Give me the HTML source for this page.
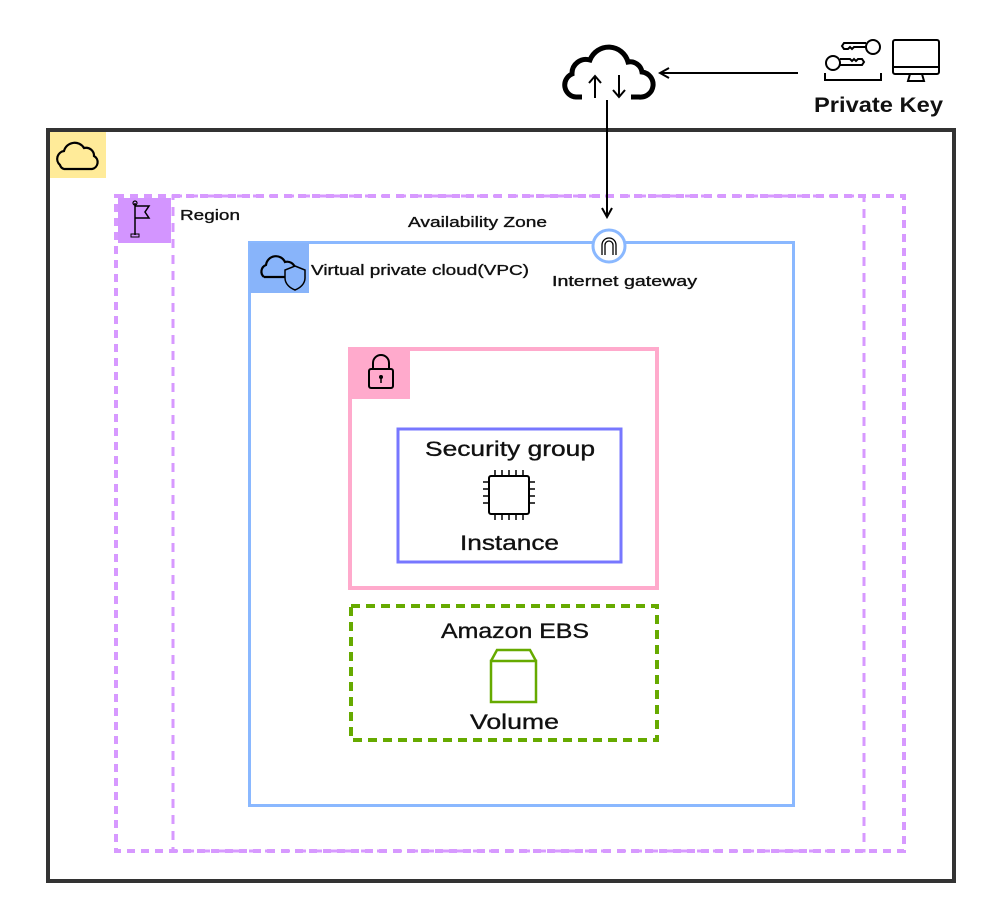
<!DOCTYPE html>
<html><head><meta charset="utf-8"><style>
body{margin:0;background:#fff;width:1000px;height:905px;overflow:hidden}
svg text{font-family:"Liberation Sans",sans-serif;fill:#111;stroke:#111;stroke-width:0.35}
</style></head><body>
<svg width="1000" height="905" viewBox="0 0 1000 905" xmlns="http://www.w3.org/2000/svg">
<defs><marker id="ah" markerWidth="12" markerHeight="12" refX="10" refY="6" orient="auto" markerUnits="userSpaceOnUse"><path d="M1,1 L10,6 L1,11" fill="none" stroke="#000" stroke-width="2"/></marker></defs>
<!-- outer -->
<rect x="48" y="130" width="906" height="751" fill="#fff" stroke="#333" stroke-width="4"/>
<rect x="50" y="132" width="56" height="46" fill="#ffeb99"/>
<path d="M60,165 a8,8 0 0 1 4,-14 a11,11 0 0 1 20,-3 a8,8 0 0 1 10,8 a7,7 0 0 1 -2,13 h-28 a6,6 0 0 1 -4,-4z" fill="none" stroke="#000" stroke-width="2.2"/>
<!-- region / AZ dashed -->
<rect x="116" y="196" width="788" height="655" fill="none" stroke="#d799ff" stroke-width="4" stroke-dasharray="8,6"/>
<rect x="173" y="196" width="691" height="655" fill="none" stroke="#d799ff" stroke-width="3" stroke-dasharray="9,7"/>
<rect x="118" y="198" width="53" height="45" fill="#d395ff"/>
<line x1="135" y1="203" x2="135" y2="235" stroke="#000" stroke-width="1.5"/>
<circle cx="135" cy="203" r="2" fill="none" stroke="#000" stroke-width="1.2"/>
<path d="M135,206 h14 l-4,6 l4,6 h-14" fill="none" stroke="#000" stroke-width="1.5"/>
<rect x="131" y="234" width="8" height="3" fill="none" stroke="#000" stroke-width="1"/>
<text x="180" y="220" font-size="15" textLength="60" lengthAdjust="spacingAndGlyphs">Region</text>
<text x="408" y="227" font-size="15" textLength="139" lengthAdjust="spacingAndGlyphs">Availability Zone</text>
<!-- VPC -->
<rect x="249.5" y="242.5" width="544" height="563" fill="#fff" stroke="#8ab8ff" stroke-width="3"/>
<rect x="250" y="243" width="59" height="50" fill="#88b4fa"/>
<path d="M264,277 a7,7 0 0 1 2,-12 a10,10 0 0 1 19,-3 a8,8 0 0 1 10,6 M264,277 h22" fill="none" stroke="#000" stroke-width="2.2"/>
<path d="M295,266 l10,4 v8 c0,6 -5,10 -10,12 c-5,-2 -10,-6 -10,-12 v-8z" fill="#88b4fa" stroke="#000" stroke-width="1.5"/>
<text x="311" y="275" font-size="15" textLength="218" lengthAdjust="spacingAndGlyphs">Virtual private cloud(VPC)</text>
<circle cx="609" cy="246" r="16" fill="#fff" stroke="#8ab8ff" stroke-width="3"/>
<path d="M602,255 v-10 a7,7 0 0 1 14,0 v10 M605,255 v-10 a4,4 0 0 1 8,0 v10" fill="none" stroke="#000" stroke-width="1.3"/>
<text x="552" y="286" font-size="15" textLength="145" lengthAdjust="spacingAndGlyphs">Internet gateway</text>
<!-- pink -->
<rect x="350" y="349" width="307" height="239" fill="none" stroke="#ffaacc" stroke-width="4"/>
<rect x="351" y="350" width="59" height="49" fill="#ffaacc"/>
<rect x="369" y="369" width="24" height="19" rx="2" fill="none" stroke="#000" stroke-width="2"/>
<path d="M373,369 v-6 a8,8 0 0 1 16,0 v6" fill="none" stroke="#000" stroke-width="2"/>
<circle cx="381" cy="377" r="2" fill="#000"/><line x1="381" y1="378" x2="381" y2="383" stroke="#000" stroke-width="1.5"/>
<!-- security group -->
<rect x="398" y="429" width="223" height="133" fill="none" stroke="#7777ff" stroke-width="3"/>
<text x="425" y="456" font-size="21" textLength="170" lengthAdjust="spacingAndGlyphs">Security group</text>
<rect x="489" y="476" width="40" height="38" rx="2" fill="none" stroke="#000" stroke-width="2"/>
<g stroke="#000" stroke-width="1.5">
<path d="M495,476v-6M502,476v-6M509,476v-6M516,476v-6M523,476v-6M495,514v6M502,514v6M509,514v6M516,514v6M523,514v6M489,482h-6M489,489h-6M489,496h-6M489,503h-6M529,482h6M529,489h6M529,496h6M529,503h6"/></g>
<text x="460" y="550" font-size="21" textLength="99" lengthAdjust="spacingAndGlyphs">Instance</text>
<!-- EBS -->
<rect x="351" y="606" width="306" height="134" fill="none" stroke="#66aa00" stroke-width="4" stroke-dasharray="9,6"/>
<text x="441" y="638" font-size="21" textLength="148" lengthAdjust="spacingAndGlyphs">Amazon EBS</text>
<rect x="491" y="661" width="45" height="41" fill="none" stroke="#66aa00" stroke-width="2.5"/>
<path d="M491,661 l6,-11 h33 l6,11" fill="none" stroke="#66aa00" stroke-width="2.5"/>
<text x="470" y="729" font-size="21" textLength="89" lengthAdjust="spacingAndGlyphs">Volume</text>
<!-- top cloud -->
<path d="M582,97 h-6 a12,12 0 0 1 -4,-23 a14,14 0 0 1 18,-14 a20,20 0 0 1 38,2 a12,12 0 0 1 14,10 a12,12 0 0 1 -3,25 h-8" fill="none" stroke="#000" stroke-width="5"/>
<path d="M595,98 v-21 M589,83 l6,-7 l6,7 M619,75 v21 M613,90 l6,7 l6,-7" fill="none" stroke="#000" stroke-width="2"/>
<line x1="607" y1="100" x2="607" y2="217" stroke="#000" stroke-width="2" marker-end="url(#ah)"/>
<line x1="798" y1="73" x2="660" y2="73" stroke="#000" stroke-width="2" marker-end="url(#ah)"/>
<!-- keys & monitor -->
<g fill="none" stroke="#000" stroke-width="2">
<circle cx="833" cy="63" r="7"/><path d="M840,59 h10 l2,2 l2,-2 l2,2 l2,-2 h4 l2,3 l-2,3 h-22"/>
<circle cx="873" cy="47" r="7"/><path d="M866,43 h-22 l-2,3 l2,3 h4 l2,-2 l2,2 l2,-2 h12"/>
<path d="M825,73 v7 h56 v-7"/>
<rect x="893" y="40" width="46" height="34" rx="2"/><path d="M893,67 h46 M910,74 l-2,7 h16 l-2,-7"/>
</g>
<text x="814" y="112" font-size="21" font-weight="bold" textLength="129" lengthAdjust="spacingAndGlyphs" style="stroke-width:0">Private Key</text>
</svg>
</body></html>
